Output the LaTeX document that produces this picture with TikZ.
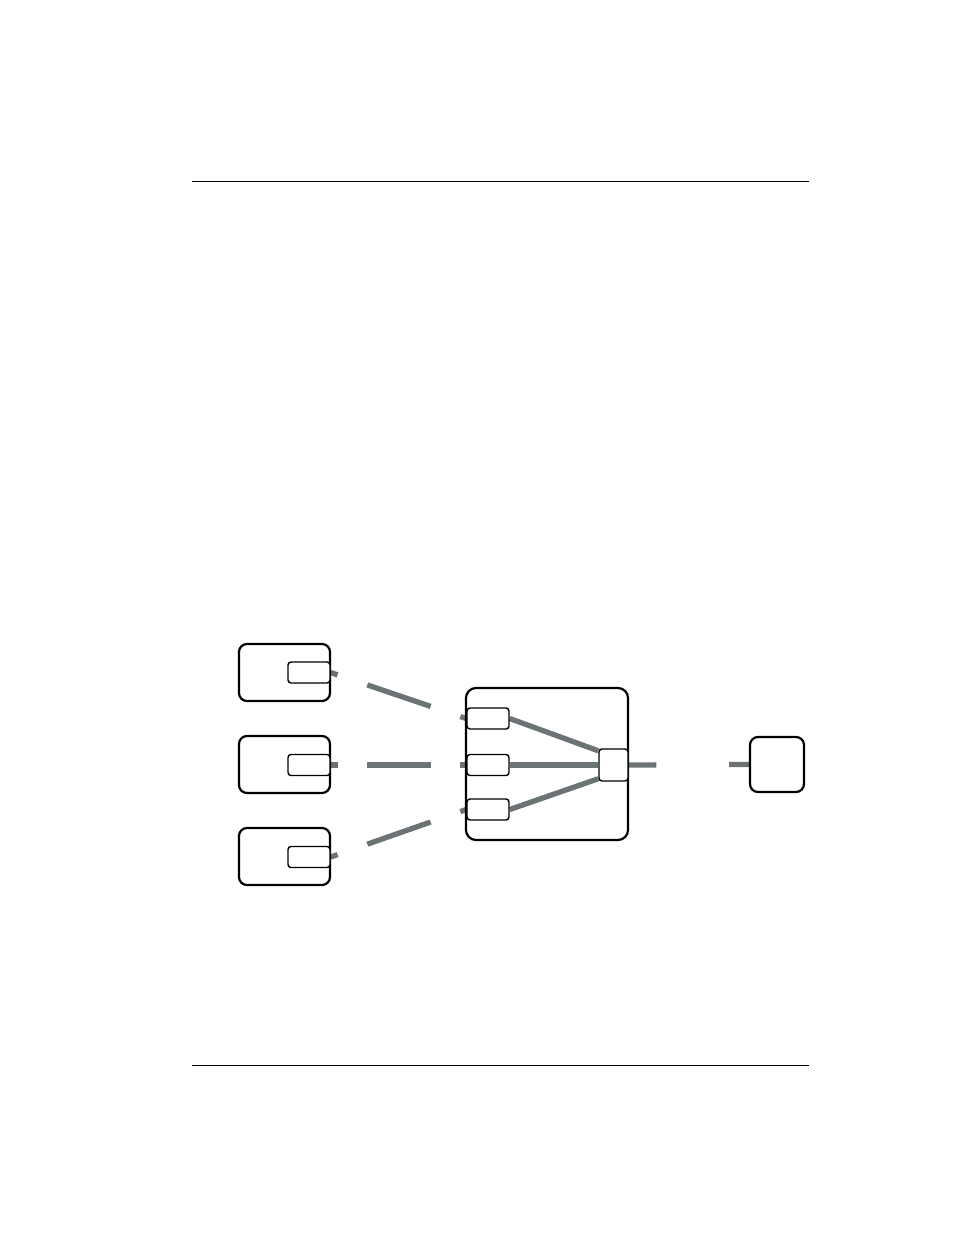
\documentclass[tikz,border=0pt]{standalone}
\usetikzlibrary{calc,backgrounds}
\definecolor{wire}{RGB}{108,115,117}
\tikzset{
  bigbox/.style={draw=black, line width=2.2pt, rounded corners=8pt, inner sep=0pt},
  smallbox/.style={draw=black, line width=1.4pt, rounded corners=3pt, inner sep=0pt, fill=white},
  wireline/.style={draw=wire, line width=5.3pt},
  rule/.style={draw=black, line width=1pt}
}
\begin{document}
\begin{tikzpicture}[x=1pt,y=-1pt]
\useasboundingbox (0,0) rectangle (954,1235);
% rules
\coordinate (ta) at (192,181); \coordinate (tb) at (809,181);
\coordinate (ba) at (192,1065); \coordinate (bb) at (809,1065);
\draw[rule] (ta) -- (tb);
\draw[rule] (ba) -- (bb);
% left sources
\node[bigbox, minimum width=91pt, minimum height=57pt] (s1) at (284.5,672.5) {};
\node[bigbox, minimum width=91pt, minimum height=57pt] (s2) at (284.5,764.5) {};
\node[bigbox, minimum width=91pt, minimum height=57pt] (s3) at (284.5,856.5) {};
\node[smallbox, minimum width=42pt, minimum height=21pt] (p1) at (309,672.5) {};
\node[smallbox, minimum width=42pt, minimum height=21pt] (p2) at (309,765) {};
\node[smallbox, minimum width=42pt, minimum height=21pt] (p3) at (309,857) {};
% middle
\node[bigbox, rounded corners=10pt, minimum width=162pt, minimum height=152pt] (m) at (547,764) {};
\node[smallbox, minimum width=42pt, minimum height=21pt] (q1) at (488,718.5) {};
\node[smallbox, minimum width=42pt, minimum height=21pt] (q2) at (488,765) {};
\node[smallbox, minimum width=42pt, minimum height=21pt] (q3) at (488,809.5) {};
\node[smallbox, minimum width=29pt, minimum height=32pt] (h) at (613.5,765) {};
% right
\node[bigbox, fill=white, minimum width=54pt, minimum height=55pt] (r) at (777,764.5) {};
\begin{scope}[on background layer]
  \foreach \a/\b in {p1/q1,p2/q2,p3/q3}{
    \draw[wireline] (\a.east) -- ($(\a.east)!0.051!(\b.west)$)
      ($(\a.east)!0.27!(\b.west)$) -- ($(\a.east)!0.737!(\b.west)$)
      ($(\a.east)!0.956!(\b.west)$) -- (\b.west);
  }
  \draw[wireline] (q1.east) -- ($(h.north west)+(0,2.5)$);
  \draw[wireline] (q2.east) -- (h.west);
  \draw[wireline] (q3.east) -- ($(h.south west)+(0,-3)$);
  \draw[wireline] (h.east) -- ($(h.east)!0.2295!(r.west)$)
    ($(h.east)!0.836!(r.west)$) -- (r.west);
\end{scope}
\end{tikzpicture}
\end{document}
